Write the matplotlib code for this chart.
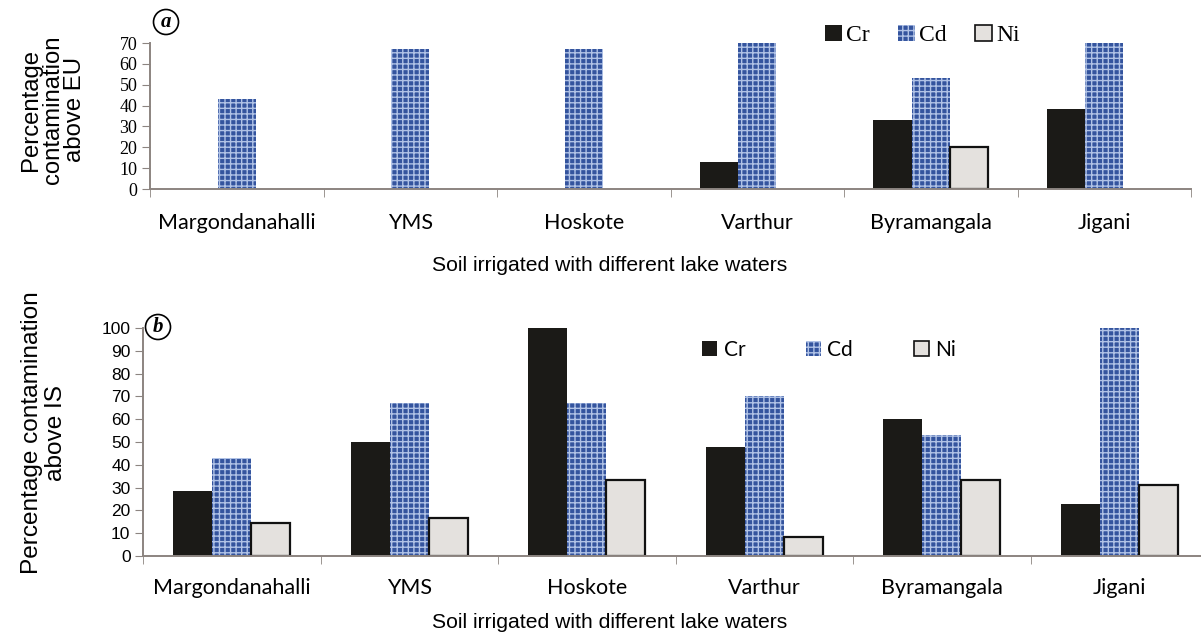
import numpy as np
import matplotlib.pyplot as plt
from matplotlib.patches import Patch

# Sites and percentage contamination values
sites = ['Margondanahalli', 'YMS', 'Hoskote', 'Varthur', 'Byramangala', 'Jigani']
metals = ['Cr', 'Cd', 'Ni']

# (a) above EU limits
eu_cr = [0, 0, 0, 13, 33, 38.5]
eu_cd = [43, 67, 67, 70, 53, 70]
eu_ni = [0, 0, 0, 0, 20, 0]

# (b) above IS limits
is_cr = [28.5, 50, 100, 48, 60, 23]
is_cd = [43, 67, 67, 70, 53, 100]
is_ni = [14.5, 16.5, 33.5, 8.5, 33.5, 31]

SANS = ['Liberation Sans', 'DejaVu Sans']
CAT = ['Lato', 'DejaVu Sans']
SERIF = ['Liberation Serif', 'DejaVu Serif']

cr_style = dict(color='#1b1a17', linewidth=0)
cd_style = dict(facecolor='#34549e', edgecolor='#b0c2e6', hatch='+++', linewidth=0)
ni_style = dict(facecolor='#e4e1de', edgecolor='#111111', linewidth=1.6)

plt.rcParams['hatch.linewidth'] = 1.0

fig = plt.figure(figsize=(12.01, 6.36), dpi=100)
ax_a = fig.add_axes([150 / 1201, 1 - 189 / 636, 1041 / 1201, 146 / 636])
ax_b = fig.add_axes([143 / 1201, 1 - 556 / 636, 1065 / 1201, 228 / 636])

x = np.arange(len(sites))
w = 0.22


def draw(ax, cr, cd, ni, ymax, tick_font, tick_size, pad):
    ax.bar(x - w, cr, w, **cr_style)
    ax.bar(x, cd, w, **cd_style)
    # Ni bars: skip zeros so no outline is drawn at the baseline
    ni_x = [xi + w for xi, v in zip(x, ni) if v > 0]
    ni_v = [v for v in ni if v > 0]
    ax.bar(ni_x, ni_v, w, **ni_style)
    ax.set_xlim(-0.5, len(sites) - 0.5)
    ax.set_ylim(0, ymax)
    ax.set_yticks(np.arange(0, ymax + 1, 10))
    ax.set_xticks(x)
    ax.set_xticklabels(sites, family=CAT, fontsize=15.5)
    ax.set_xticks(np.arange(-0.5, len(sites)), minor=True)
    ax.tick_params(axis='x', which='major', length=0, pad=pad)
    ax.tick_params(axis='x', which='minor', length=6, color='#8c8480', direction='out')
    ax.tick_params(axis='y', length=6, color='#8c8480', pad=3)
    for lab in ax.get_yticklabels():
        lab.set_family(tick_font)
        lab.set_fontsize(tick_size)
    for s in ['top', 'right']:
        ax.spines[s].set_visible(False)
    for s in ['left', 'bottom']:
        ax.spines[s].set_color('#8c8480')
        ax.spines[s].set_linewidth(1.4)


draw(ax_a, eu_cr, eu_cd, eu_ni, 70, SERIF, 13, 17)
draw(ax_b, is_cr, is_cd, is_ni, 100, SANS, 12.5, 16)

handles = [Patch(**cr_style), Patch(**cd_style), Patch(facecolor='#e4e1de', edgecolor='#111111', linewidth=1.2)]

ax_a.legend(handles, metals, loc='upper left', bbox_to_anchor=(0.628, 1.27), ncol=3,
            frameon=False, prop={'family': SERIF, 'size': 17}, handlelength=0.7,
            handleheight=0.7, handletextpad=0.2, columnspacing=1.2)
ax_b.legend(handles, metals, loc='upper left', bbox_to_anchor=(0.507, 1.03), ncol=3,
            frameon=False, prop={'family': CAT, 'size': 15}, handlelength=0.75,
            handleheight=0.75, handletextpad=0.3, columnspacing=2.9)

fig.text(53 / 1201, 1 - 110 / 636, 'Percentage\ncontamination\nabove EU', family=SANS,
         fontsize=17.2, rotation=90, ha='center', va='center', linespacing=1.0)
fig.text(44 / 1201, 1 - 433 / 636, 'Percentage contamination\nabove IS', family=SANS,
         fontsize=17.6, rotation=90, ha='center', va='center', linespacing=1.12)

fig.text(610 / 1201, 1 - 265 / 636, 'Soil irrigated with different lake waters', family=SANS,
         fontsize=15.2, ha='center', va='center')
fig.text(610 / 1201, 1 - 623 / 636, 'Soil irrigated with different lake waters', family=SANS,
         fontsize=15.2, ha='center', va='center')

circ = dict(boxstyle='circle,pad=0.12', facecolor='white', edgecolor='black', linewidth=1.2)
fig.text(166 / 1201, 1 - 22 / 636, 'a', family=SERIF, style='italic', weight='bold',
         fontsize=15, ha='center', va='center', bbox=circ)
fig.text(158 / 1201, 1 - 327 / 636, 'b', family=SERIF, style='italic', weight='bold',
         fontsize=15, ha='center', va='center', bbox=circ)

fig.savefig('out.png', dpi=100)
